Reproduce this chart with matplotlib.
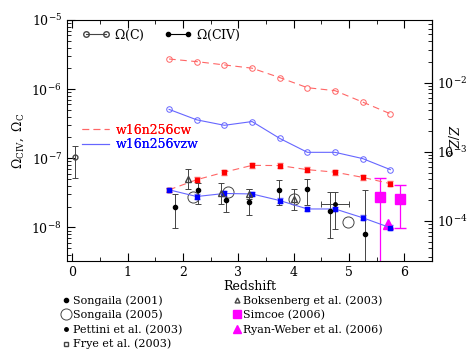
import matplotlib
matplotlib.use('Agg')
import matplotlib.pyplot as plt
import numpy as np
from matplotlib.lines import Line2D
from matplotlib.ticker import LogLocator, NullFormatter, MultipleLocator

plt.rcParams['font.family'] = 'DejaVu Serif'
plt.rcParams['mathtext.fontset'] = 'dejavuserif'

# simulations
z_sim = [1.75, 2.25, 2.75, 3.25, 3.75, 4.25, 4.75, 5.25, 5.75]
omc_cw = [2.73e-6, 2.50e-6, 2.24e-6, 2.01e-6, 1.47e-6, 1.05e-6, 9.5e-7, 6.5e-7, 4.4e-7]
omc_vzw = [5.1e-7, 3.6e-7, 3.0e-7, 3.4e-7, 1.94e-7, 1.22e-7, 1.22e-7, 9.9e-8, 6.85e-8]
omciv_cw = [3.5e-8, 4.9e-8, 6.3e-8, 7.9e-8, 7.85e-8, 6.85e-8, 6.3e-8, 5.3e-8, 4.3e-8]
omciv_vzw = [3.5e-8, 2.8e-8, 3.1e-8, 3.05e-8, 2.45e-8, 1.85e-8, 1.85e-8, 1.38e-8, 9.9e-9]

# observations
s01_z = [1.86, 2.27, 2.78, 3.2, 3.74, 4.24, 4.66, 5.29]
s01_om = [2.0e-8, 3.5e-8, 2.5e-8, 2.35e-8, 3.45e-8, 3.65e-8, 1.75e-8, 8.1e-9]
s01_hi = [3.05e-8, 4.4e-8, 3.15e-8, 3.65e-8, 4.8e-8, 5.1e-8, 3.3e-8, 3.45e-8]
s01_lo = [9.9e-9, 2.15e-8, 1.7e-8, 1.5e-8, 2.1e-8, 2.1e-8, 7.1e-9, 1e-10]

s05_z = [2.18, 2.81, 4.01, 4.98]
s05_om = [2.75e-8, 3.3e-8, 2.6e-8, 1.2e-8]

pet_z = [4.75]
pet_om = [2.2e-8]
pet_hi = [3.3e-8]
pet_lo = [9.5e-9]
pet_zlo = [4.49]
pet_zhi = [5.0]

frye_z = [0.05]
frye_om = [1.04e-7]
frye_hi = [1.52e-7]
frye_lo = [5.2e-8]

bok_z = [2.1, 2.69, 3.2, 4.0]
bok_om = [5.1e-8, 3.2e-8, 3.05e-8, 2.6e-8]
bok_hi = [6.9e-8, 4.4e-8, 3.6e-8, 3.6e-8]
bok_lo = [3.6e-8, 2.15e-8, 2.6e-8, 1.8e-8]

sim_z = [5.56, 5.92]
sim_om = [2.8e-8, 2.6e-8]
sim_hi = [5.25e-8, 4.1e-8]
sim_lo = [1e-10, 9.9e-9]

rw_z = [5.7]
rw_om = [1.14e-8]

zfac = 10 ** 3.905

def yerr(v, hi, lo):
    v = np.array(v)
    return [v - np.array(lo), np.array(hi) - v]

fig = plt.figure(figsize=(4.67, 3.51), dpi=100)
ax = fig.add_axes([0.1428, 0.2564, 0.782, 0.6866])
ax.set_yscale('log')
ax.set_xlim(-0.1, 6.5)
ax.set_ylim(3.27e-9, 1e-5)

red_l = '#ff6666'
blue_l = '#6666ff'
ax.plot(z_sim, omc_cw, ls='--', color=red_l, lw=0.8, marker='o', mfc='none', ms=4, mew=0.7, dashes=(6, 4))
ax.plot(z_sim, omc_vzw, ls='-', color=blue_l, lw=0.8, marker='o', mfc='none', ms=4, mew=0.7)
ax.errorbar(z_sim, omciv_cw, yerr=np.array(omciv_cw) * 0.08, color=red_l, ls='--', lw=0.8,
            marker='s', ms=3, mfc='red', mec='red', capsize=2, elinewidth=0.6, dashes=(6, 4))
ax.errorbar(z_sim, omciv_vzw, yerr=np.array(omciv_vzw) * 0.08, color=blue_l, ls='-', lw=0.8,
            marker='s', ms=3, mfc='blue', mec='blue', capsize=2, elinewidth=0.6)

ek = dict(ls='none', capsize=2, elinewidth=0.7, capthick=0.7, ecolor='#444444')
ax.errorbar(s01_z, s01_om, yerr=yerr(s01_om, s01_hi, s01_lo), marker='o', ms=3, color='black', **ek)
ax.plot(s05_z, s05_om, ls='none', marker='o', ms=8, mfc='none', mec='#444444', mew=0.7)
ax.errorbar(pet_z, pet_om, yerr=yerr(pet_om, pet_hi, pet_lo),
            xerr=[[pet_z[0] - pet_zlo[0]], [pet_zhi[0] - pet_z[0]]], marker='o', ms=2.5, color='black', **ek)
ax.errorbar(frye_z, frye_om, yerr=yerr(frye_om, frye_hi, frye_lo), marker='o', ms=3.5,
            mfc='none', mec='#444444', color='#444444', **ek)
ax.errorbar(bok_z, bok_om, yerr=yerr(bok_om, bok_hi, bok_lo), marker='^', ms=4,
            mfc='none', mec='#444444', color='#444444', **ek)
ax.errorbar(sim_z, sim_om, yerr=yerr(sim_om, sim_hi, sim_lo), ls='none', marker='s', ms=7,
            color='magenta', capsize=4, elinewidth=0.9)
ax.plot(rw_z, rw_om, ls='none', marker='^', ms=7, color='magenta')

ax.tick_params(which='both', direction='in', top=True, right=False, labelsize=9)
ax.tick_params(which='major', length=6)
ax.tick_params(which='minor', length=3)
ax.xaxis.set_major_locator(MultipleLocator(1))
ax.xaxis.set_minor_locator(MultipleLocator(0.5))
ax.yaxis.set_major_locator(LogLocator(base=10, numticks=10))
ax.yaxis.set_minor_locator(LogLocator(base=10, subs=np.arange(2, 10), numticks=20))
ax.yaxis.set_minor_formatter(NullFormatter())
ax.set_xlabel('Redshift', fontsize=9, labelpad=1)
ax.set_ylabel(r'$\Omega_{\rm CIV},\ \Omega_{\rm C}$', fontsize=9, labelpad=4)

sec = ax.secondary_yaxis('right', functions=(lambda y: y * zfac, lambda y: y / zfac))
sec.tick_params(which='both', direction='in', labelsize=9)
sec.tick_params(which='major', length=6)
sec.tick_params(which='minor', length=3)
sec.yaxis.set_major_locator(LogLocator(base=10, numticks=10))
sec.yaxis.set_minor_locator(LogLocator(base=10, subs=np.arange(2, 10), numticks=20))
sec.yaxis.set_minor_formatter(NullFormatter())
sec.set_ylabel(r'$Z/Z_\odot$', fontsize=9, rotation=-90, labelpad=-6)

h_top = [Line2D([0], [0], color='#444444', lw=0.8, marker='o', mfc='none', ms=4),
         Line2D([0], [0], color='black', lw=0.8, marker='o', ms=3)]
leg1 = ax.legend(h_top, [r'$\Omega$(C)', r'$\Omega$(CIV)'], ncol=2, loc='upper left',
                 bbox_to_anchor=(0.011, 1.015), frameon=False, numpoints=2, fontsize=9,
                 handlelength=2.2, columnspacing=1.6, handletextpad=0.35)
ax.add_artist(leg1)

h_sim = [Line2D([0], [0], color=red_l, ls='--', lw=0.8, dashes=(6, 4)),
         Line2D([0], [0], color=blue_l, ls='-', lw=0.8)]
leg2 = ax.legend(h_sim, ['w16n256cw', 'w16n256vzw'], loc='upper left',
                 bbox_to_anchor=(0.011, 0.617), frameon=False, fontsize=9,
                 handlelength=2.2, handletextpad=0.5, labelspacing=0.15)
leg2.get_texts()[0].set_color('red')
leg2.get_texts()[1].set_color('blue')
ax.add_artist(leg2)

h_obs = [Line2D([0], [0], ls='none', marker='o', ms=3, color='black'),
         Line2D([0], [0], ls='none', marker='o', ms=8, mfc='none', mec='#444444', mew=0.7),
         Line2D([0], [0], ls='none', marker='o', ms=2.5, color='black'),
         Line2D([0], [0], ls='none', marker='s', ms=3, mfc='none', mec='#444444'),
         Line2D([0], [0], ls='none', marker='^', ms=3.5, mfc='none', mec='#444444'),
         Line2D([0], [0], ls='none', marker='s', ms=6, color='magenta'),
         Line2D([0], [0], ls='none', marker='^', ms=6, color='magenta')]
l_obs = ['Songaila (2001)', 'Songaila (2005)', 'Pettini et al. (2003)', 'Frye et al. (2003)',
         'Boksenberg et al. (2003)', 'Simcoe (2006)', 'Ryan-Weber et al. (2006)']
fig.legend(h_obs, l_obs, ncol=2, loc='upper left', bbox_to_anchor=(0.12, 0.175),
           frameon=False, fontsize=8, handlelength=0.8, handletextpad=0.2,
           columnspacing=4.5, labelspacing=0.37, borderpad=0)

fig.savefig('out.png', dpi=100)
